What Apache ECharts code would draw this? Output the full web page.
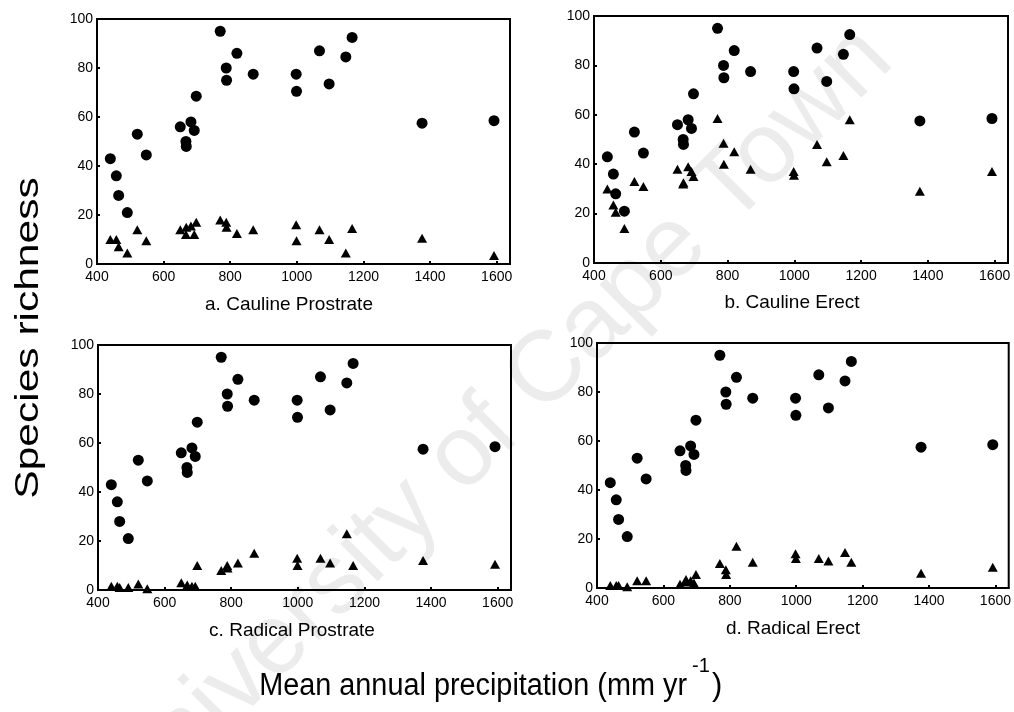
<!DOCTYPE html>
<html><head><meta charset="utf-8">
<script src="https://cdn.jsdelivr.net/npm/echarts@6/dist/echarts.min.js"></script>
<style>html,body{margin:0;padding:0;background:#fff}#c{width:1014px;height:712px}</style>
</head><body><div id="c"></div>
<script>
// Mean annual precipitation of each site (mm/yr)
const precip = [440, 458, 465, 491, 521, 548, 650, 667, 668, 682, 692, 698, 770, 788, 789, 820, 869, 998, 999, 1068, 1097, 1147, 1166, 1376, 1592];
// Total species richness (circles, same in every panel)
const total = [43, 36, 28, 21, 53, 44.5, 56, 50, 48, 58, 54.5, 68.5, 95, 80, 75, 86, 77.5, 77.5, 70.5, 87, 73.5, 84.5, 92.5, 57.5, 58.5];
// Growth-form richness (triangles)
const caulineProstrate = [10, 10, 7, 4.5, 14, 9.5, 14, 12, 15, 15.5, 12, 17, 18, 17, 15, 12.5, 14, 16, 9.5, 14, 10, 4.5, 14.5, 10.5, 3.5];
const caulineErect = [30, 23.5, 20.5, 14, 33, 31, 38, 32, 32.5, 39, 37, 35, 58.5, 48.5, 40, 45, 38, 37, 35.5, 48, 41, 43.5, 58, 29, 37];
const radicalProstrate = [1.5, 1.5, 1, 1, 2.5, 0.5, 3, 1.5, 2, 1.5, 1.5, 10, 8, 10, 9, 11, 15, 13, 10, 13, 11, 23, 10, 12, 10.5];
const radicalErect = [1, 1, 1, 0.5, 3, 3, 1.5, 2.5, 3.5, 3, 2, 5.5, 10, 7.5, 5.5, 17, 10.5, 14, 12, 12, 11, 14.5, 10.5, 6, 8.5];
const panelLabels = ['a. Cauline Prostrate', 'b. Cauline Erect', 'c. Radical Prostrate', 'd. Radical Erect'];
const xTickLabels = [400, 600, 800, 1000, 1200, 1400, 1600];
const yTickLabels = [0, 20, 40, 60, 80, 100];
const yTitle = 'Species richness';
const xTitle = 'Mean annual precipitation (mm yr';
const xTitleSup = '-1';
const watermark = 'University of Cape Town';

const panels = [caulineProstrate, caulineErect, radicalProstrate, radicalErect];
const grids = [
  {left: 97, top: 19, width: 413, height: 245},
  {left: 594, top: 16, width: 414, height: 247},
  {left: 98, top: 345, width: 413, height: 245},
  {left: 597, top: 343, width: 413, height: 245}
];
const labelPos = [[289, 305], [792, 303], [292, 631], [793, 629]];
const font = "'Liberation Sans', Arial, sans-serif";

const xAxes = [], yAxes = [], series = [];
grids.forEach((g, i) => {
  g.show = true; g.borderColor = '#000'; g.borderWidth = 2; g.containLabel = false;
  xAxes.push({
    gridIndex: i, type: 'value', min: xTickLabels[0], max: 1640, interval: 200,
    axisLine: {show: true, onZero: false, lineStyle: {color: '#000', width: 2}},
    axisTick: {show: true, inside: true, length: 3, lineStyle: {color: '#000', width: 2}},
    axisLabel: {color: '#000', fontSize: 14, fontFamily: font, margin: 6, showMaxLabel: false,
      formatter: v => xTickLabels.includes(v) ? String(v) : ''},
    splitLine: {show: false}
  });
  yAxes.push({
    gridIndex: i, type: 'value', min: yTickLabels[0], max: yTickLabels[yTickLabels.length - 1], interval: 20,
    axisLine: {show: true, lineStyle: {color: '#000', width: 2}},
    axisTick: {show: true, inside: true, length: 3, lineStyle: {color: '#000', width: 2}},
    axisLabel: {color: '#000', fontSize: 14, fontFamily: font, margin: 4},
    splitLine: {show: false}
  });
  series.push({
    type: 'scatter', xAxisIndex: i, yAxisIndex: i, symbol: 'circle', symbolSize: 11,
    itemStyle: {color: '#000', opacity: 1}, z: 3, silent: true,
    data: precip.map((x, j) => [x, total[j]])
  });
  series.push({
    type: 'scatter', xAxisIndex: i, yAxisIndex: i, symbol: 'triangle', symbolSize: [10, 9],
    itemStyle: {color: '#000', opacity: 1}, z: 3, silent: true,
    data: precip.map((x, j) => [x, panels[i][j]])
  });
});

const graphic = [
  {type: 'text', x: 495, y: 425, rotation: Math.PI / 4, z: -10, silent: true,
   style: {text: watermark, fontSize: 100, fontFamily: font, fill: '#ececec', align: 'center', verticalAlign: 'middle'}},
  {type: 'text', x: 29, y: 338, rotation: Math.PI / 2, scaleX: 1.25, silent: true,
   style: {text: yTitle, fontSize: 34, fontFamily: font, fill: '#000', align: 'center', verticalAlign: 'middle'}},
  {type: 'text', x: 687, y: 686, scaleX: 0.93, silent: true,
   style: {text: xTitle, fontSize: 31, fontFamily: font, fill: '#000', align: 'right', verticalAlign: 'middle'}},
  {type: 'text', x: 692, y: 666, silent: true,
   style: {text: xTitleSup, fontSize: 20, fontFamily: font, fill: '#000', align: 'left', verticalAlign: 'middle'}},
  {type: 'text', x: 712, y: 686, silent: true,
   style: {text: ')', fontSize: 31, fontFamily: font, fill: '#000', align: 'left', verticalAlign: 'middle'}}
];
panelLabels.forEach((t, i) => {
  graphic.push({type: 'text', x: labelPos[i][0], y: labelPos[i][1], silent: true,
    style: {text: t, fontSize: 19, fontFamily: font, fill: '#000', align: 'center', verticalAlign: 'middle'}});
});

const chart = echarts.init(document.getElementById('c'), null, {renderer: 'canvas'});
chart.setOption({
  animation: false,
  backgroundColor: '#fff',
  grid: grids, xAxis: xAxes, yAxis: yAxes, series: series, graphic: graphic
});
</script></body></html>
